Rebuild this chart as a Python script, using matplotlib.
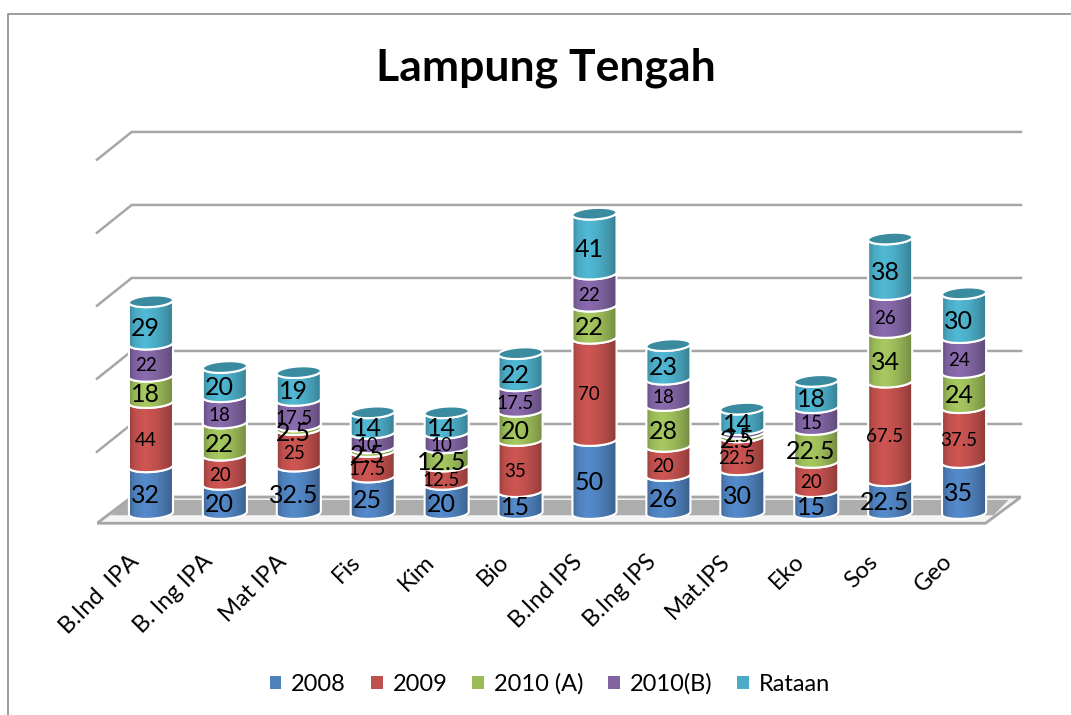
import numpy as np
import matplotlib
matplotlib.use("Agg")
import matplotlib.pyplot as plt
from matplotlib.colors import to_rgb
from matplotlib.lines import Line2D
from matplotlib.patches import Patch, Polygon

plt.rcParams['font.family'] = ['Lato', 'DejaVu Sans']

categories = ['B.Ind  IPA', 'B. Ing IPA', 'Mat IPA', 'Fis', 'Kim', 'Bio',
              'B.Ind IPS', 'B.Ing IPS', 'Mat.IPS', 'Eko', 'Sos', 'Geo']
s2008 = [32, 20, 32.5, 25, 20, 15, 50, 26, 30, 15, 22.5, 35]
s2009 = [44, 20, 25, 17.5, 12.5, 35, 70, 20, 22.5, 20, 67.5, 37.5]
s2010a = [18, 22, 2.5, 2.5, 12.5, 20, 22, 28, 2.5, 22.5, 34, 24]
s2010b = [22, 18, 17.5, 10, 10, 17.5, 22, 18, 2.5, 15, 26, 24]
rataan = [29, 20, 19, 14, 14, 22, 41, 23, 14, 18, 38, 30]
series_names = ['2008', '2009', '2010 (A)', '2010(B)', 'Rataan']
gridlines = [50, 100, 150, 200, 250]

series = [s2008, s2009, s2010a, s2010b, rataan]
colors = ['#4f81bd', '#c0504d', '#9bbb59', '#8064a2', '#4bacc6']
label_size = [18, 13.5, 18, 13.5, 18]

fig = plt.figure(figsize=(10.71, 7.15), dpi=100)
ax = fig.add_axes([97 / 1071, (715 - 530) / 715, 924 / 1071, 405 / 715])
ax.set_facecolor('none')

# cylinder shape, in data units
half_w = 0.298
half_h = 3.9
tilt = 3.0
t = np.linspace(0, np.pi, 40)


def front_arc(cx, v):
    # lower half of the ellipse, left to right
    xs = -half_w * np.cos(t)
    return cx + xs, v - half_h * np.sin(t) + tilt * xs


def shade(color):
    stops = [0, 0.12, 0.35, 0.6, 0.85, 1]
    factors = [0.8, 0.98, 1.08, 1.0, 0.85, 0.72]
    f = np.interp(np.linspace(0, 1, 64), stops, factors)
    rgb = np.array(to_rgb(color))
    return np.clip(f[None, :, None] * rgb[None, None, :], 0, 1)


# back wall lines
grid_col = '#a6a6a6'
for g in gridlines:
    ax.plot([-0.73, -0.26, 11.77], [g - 8, g + 11, g + 11], color=grid_col, lw=1.8, zorder=1, clip_on=False)

# floor
ax.add_patch(Polygon([(-0.73, -7), (11.29, -7), (11.77, 11), (-0.26, 11)], closed=True,
                     facecolor='#f4f4f4', edgecolor=grid_col, lw=2, zorder=1))
ax.add_patch(Polygon([(-0.55, -1.5), (11.4, -1.5), (11.6, 9), (-0.3, 9)], closed=True,
                     facecolor='#adadad', edgecolor='none', zorder=1))

for i in range(len(categories)):
    bottom = 0
    for s in range(len(series)):
        v = series[s][i]
        x0, y0 = front_arc(i, bottom)
        x1, y1 = front_arc(i, bottom + v)
        pts = np.column_stack([np.r_[x0, x1[::-1]], np.r_[y0, y1[::-1]]])
        im = ax.imshow(shade(colors[s]), extent=[i - half_w, i + half_w, bottom - 8, bottom + v + 8],
                       aspect='auto', zorder=3 + s * 0.1, interpolation='bilinear')
        body = Polygon(pts, closed=True, facecolor='none', edgecolor='white', lw=1.5, zorder=3.05 + s * 0.1)
        ax.add_patch(body)
        im.set_clip_path(body)
        ax.text(i - 0.07, bottom + v / 2 - 4, str(v), ha='center', va='center',
                fontsize=label_size[s], color='black', zorder=6)
        bottom += v
    # top cap
    a = np.linspace(0, 2 * np.pi, 60)
    xs = half_w * np.cos(a)
    cap = np.column_stack([i + xs, bottom + half_h * np.sin(a) + tilt * xs])
    ax.add_patch(Polygon(cap, closed=True, facecolor='#3a8aa0', edgecolor='white', lw=1.5, zorder=4))

ax.set_xlim(-0.73, 11.77)
ax.set_ylim(-11.6, 265.75)
for sp in ax.spines.values():
    sp.set_visible(False)
ax.set_yticks([])
ax.set_xticks(np.arange(len(categories)) - 0.31)
ax.set_xticklabels(categories, rotation=45, ha='right', va='top', rotation_mode='anchor', fontsize=17)
ax.tick_params(axis='x', length=0, pad=15)

fig.text(546 / 1071, 1 - 68 / 715, 'Lampung Tengah', ha='center', va='center', fontsize=32,
         fontweight='bold', color='black')

handles = [Patch(facecolor=c, edgecolor='none') for c in colors]
fig.legend(handles, series_names, loc='center', bbox_to_anchor=(550 / 1071, 1 - 684 / 715), ncol=5,
           frameon=False, fontsize=17, handlelength=0.5, handleheight=0.5, handletextpad=0.42,
           columnspacing=1.05)

# outer chart border, cut off by the crop
fig.add_artist(Line2D([8 / 1071, 8 / 1071, 1], [0, 1 - 14 / 715, 1 - 14 / 715], color='#8c8c8c', lw=1.2))

fig.savefig('out.png', dpi=100)
